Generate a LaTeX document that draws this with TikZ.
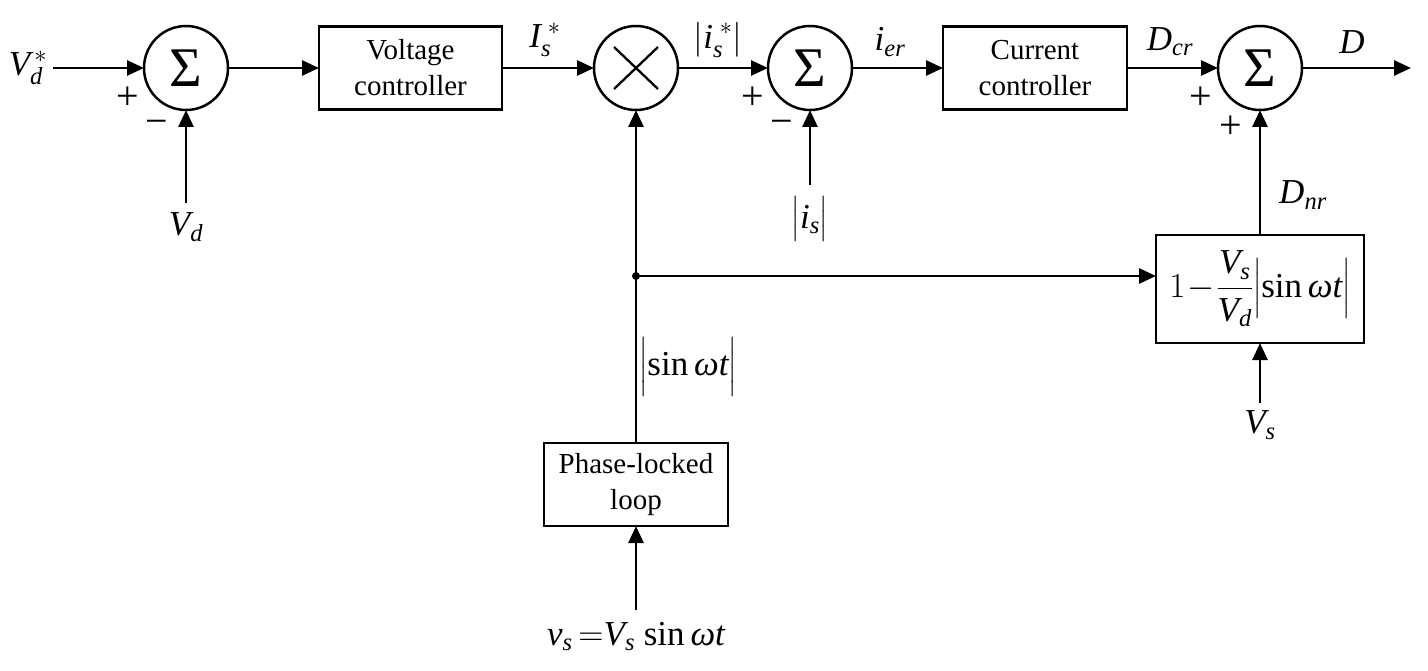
\RequirePackage{fix-cm}
\documentclass[tikz,border=0pt]{standalone}
\usepackage{amsmath}
\usepackage{fontspec}
\setmainfont{Liberation Serif}
\usetikzlibrary{arrows.meta}
\newcommand{\iv}[1]{\textit{#1}}
\begin{document}
\begin{tikzpicture}[x=1pt,y=-1pt,
  every node/.style={inner sep=0pt, outer sep=0pt},
  sig/.style={draw, line width=2.7pt, -{Triangle[length=17pt,width=15pt]}},
  sumc/.style={draw, circle, line width=2.5pt, minimum size=84pt},
  sigma/.style={font=\fontsize{56}{56}\selectfont},
  blk/.style={draw, line width=2.7pt, align=center, font=\fontsize{29}{36}\selectfont},
  lbl/.style={font=\fontsize{35}{40}\selectfont},
  sgn/.style={font=\fontsize{40}{40}\selectfont},
]
\fill[white] (0,0) rectangle (1428,671);
\useasboundingbox (0,0) rectangle (1428,671);

% summing junctions and multiplier
\node[sumc, sigma] (s1) at (186,68) {Σ};
\node[sumc] (m) at (636,68) {};
\node[sumc, sigma] (s2) at (810,68) {Σ};
\node[sumc, sigma] (s3) at (1260,68) {Σ};
\draw[line width=2.3pt] ([shift={(-22,-21)}]m.center) -- ([shift={(22,21)}]m.center);
\draw[line width=2.3pt] ([shift={(-22,21)}]m.center) -- ([shift={(22,-21)}]m.center);

% blocks
\node[blk, minimum width=183pt, minimum height=83pt] (vc) at (410.5,68) {Voltage\\controller};
\node[blk, minimum width=184pt, minimum height=83pt] (cc) at (1035,68) {Current\\controller};
\node[blk, minimum width=184pt, minimum height=83pt] (pll) at (636,484.5) {Phase-locked\\loop};
\node[blk, minimum width=208pt, minimum height=108pt, font=\fontsize{35}{40}\selectfont] (nr) at (1260,289)
  {$1\!-\!\dfrac{\iv{V}_{\iv{s}}}{\iv{V}_{\iv{d}}}\Bigl|\textrm{sin}\,\iv{ω}\iv{t}\Bigr|$};

% input / output labels
\node[lbl, anchor=east] (vds) at (47,68) {$\iv{V}_{\iv{d}}^{\,*}$};
\node[lbl, anchor=north] (vd) at (186,213) {$\iv{V}_{\iv{d}}$};
\node[lbl, anchor=north] (is) at (810,197) {$\bigl|\iv{i}_{\iv{s}}\bigr|$};
\node[lbl, anchor=north] (vsl) at (1260,411) {$\iv{V}_{\iv{s}}$};
\node[lbl, anchor=north] (vsin) at (636,622) {$\iv{v}_{\iv{s}}\,{=}\iv{V}_{\iv{s}}\ \textrm{sin}\,\iv{ω}\iv{t}$};
\coordinate (out) at (1411,68);
\coordinate (j) at (636,276);

% connectors
\draw[sig, shorten <=6pt] (vds.east) -- (s1.west);
\draw[sig] (s1.east) -- (vc.west);
\draw[sig] (vc.east) -- (m.west);
\draw[sig] (m.east) -- (s2.west);
\draw[sig] (s2.east) -- (cc.west);
\draw[sig] (cc.east) -- (s3.west);
\draw[sig] (s3.east) -- (out);
\draw[sig, shorten <=10pt] (vd.north) -- (s1.south);
\draw[sig, shorten <=12pt] (is.north) -- (s2.south);
\draw[sig] (pll.north) -- (m.south);
\draw[sig] (j) -- (j -| nr.west);
\draw[sig] (nr.north) -- (s3.south);
\draw[sig, shorten <=8pt] (vsl.north) -- (nr.south);
\draw[sig, shorten <=12pt] (vsin.north) -- (pll.south);
\fill (j) circle (4pt);

% signal labels
\node[lbl] (lIs) at (545,40) {$\iv{I}_{\iv{s}}^{\;*}$};
\node[lbl] (lis) at (718,40) {$\left|\iv{i}_{\iv{s}}^{\;*}\right|$};
\node[lbl] (lier) at (890,42) {$\iv{i}_{\iv{er}}$};
\node[lbl] (ldcr) at (1170,42) {$\iv{D}_{\iv{cr}}$};
\node[lbl] (ld) at (1352,42) {$\iv{D}$};
\node[lbl] (ldnr) at (1303,195) {$\iv{D}_{\iv{nr}}$};
\node[lbl] (lsin) at (688,367) {$\Bigl|\textrm{sin}\,\iv{ω}\iv{t}\Bigr|$};

% signs
\node[sgn] (p1) at (128,98) {+};
\node[sgn] (n1) at (157,127) {−};
\node[sgn] (p2) at (753,98) {+};
\node[sgn] (n2) at (782,127) {−};
\node[sgn] (p3) at (1201,98) {+};
\node[sgn] (p4) at (1231,127) {+};
\end{tikzpicture}
\end{document}
